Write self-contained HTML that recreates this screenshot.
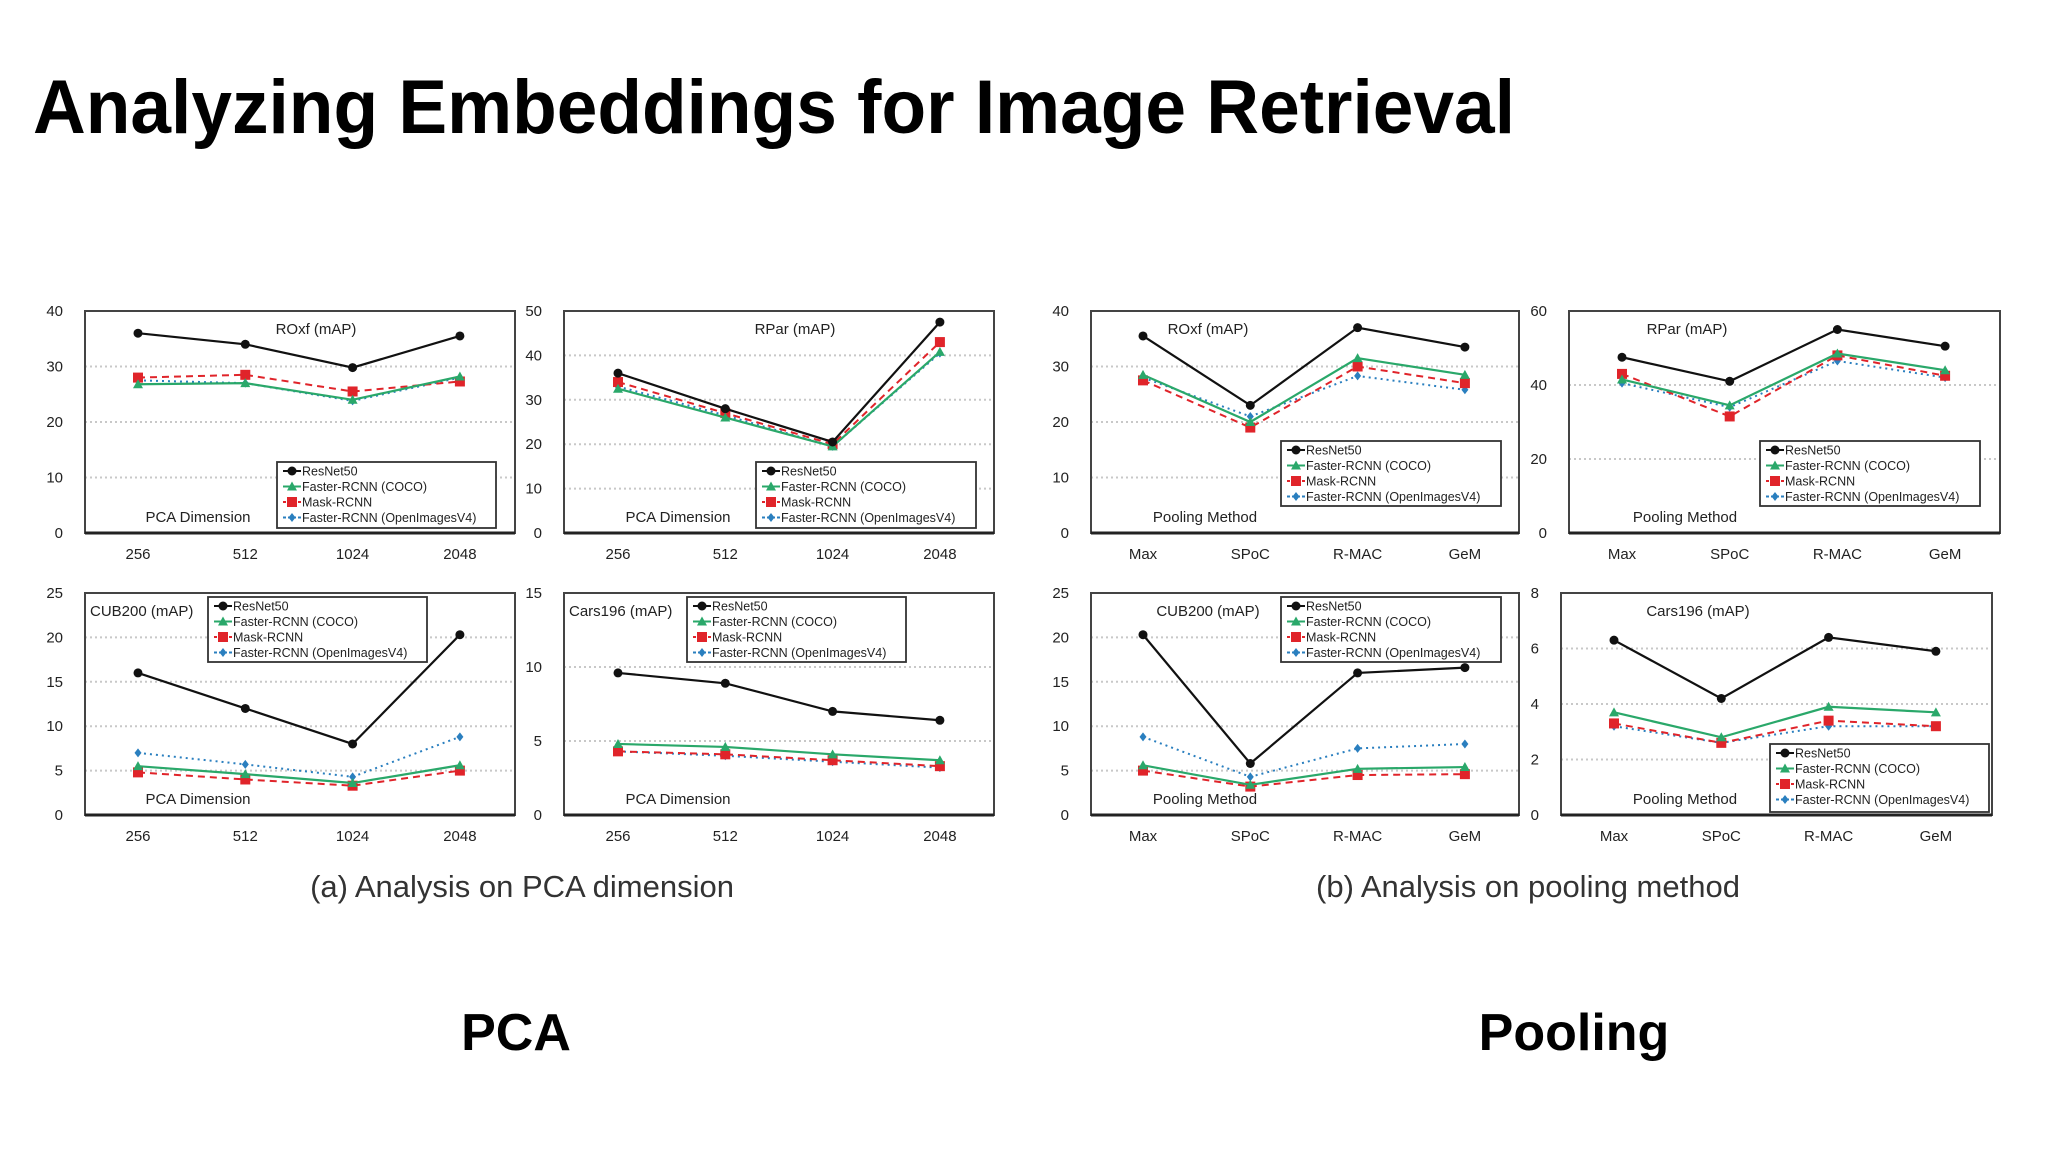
<!DOCTYPE html>
<html><head><meta charset="utf-8"><style>
html,body{margin:0;padding:0;background:#fff;}
svg{display:block;font-family:"Liberation Sans",sans-serif;}
</style></head><body>
<svg id="s" width="2048" height="1152" viewBox="0 0 2048 1152">
<text x="33" y="133" font-size="76" font-weight="bold" textLength="1482" lengthAdjust="spacingAndGlyphs">Analyzing Embeddings for Image Retrieval</text>
<text x="522" y="897" font-size="31" fill="#333" text-anchor="middle">(a) Analysis on PCA dimension</text>
<text x="1528" y="897" font-size="31" fill="#333" text-anchor="middle">(b) Analysis on pooling method</text>
<text x="516" y="1050" font-size="52" font-weight="bold" text-anchor="middle">PCA</text>
<text x="1574" y="1050" font-size="52" font-weight="bold" text-anchor="middle">Pooling</text>
</svg>
<script>
const pcaCats=["256","512","1024","2048"];
const poolCats=["Max","SPoC","R-MAC","GeM"];
const seriesNames=["ResNet50","Faster-RCNN (COCO)","Mask-RCNN","Faster-RCNN (OpenImagesV4)"];
const pcaRoxfResnet=[36,34,29.8,35.5], pcaRoxfCoco=[26.8,27,24,28.2], pcaRoxfMask=[28,28.5,25.5,27.3], pcaRoxfOi=[27.5,27,23.8,28];
const pcaRparResnet=[36,28,20.5,47.5], pcaRparCoco=[32.5,26,19.5,40.8], pcaRparMask=[34,27,20,43], pcaRparOi=[33,26.5,19.5,40.5];
const pcaCubResnet=[16,12,8,20.3], pcaCubCoco=[5.5,4.6,3.6,5.6], pcaCubMask=[4.8,4,3.3,5], pcaCubOi=[7,5.7,4.3,8.8];
const pcaCarsResnet=[9.6,8.9,7,6.4], pcaCarsCoco=[4.8,4.6,4.1,3.7], pcaCarsMask=[4.3,4.1,3.7,3.3], pcaCarsOi=[4.3,4.0,3.6,3.2];
const poolRoxfResnet=[35.5,23,37,33.5], poolRoxfCoco=[28.5,20,31.5,28.5], poolRoxfMask=[27.5,19,30,27], poolRoxfOi=[28,21,28.3,25.8];
const poolRparResnet=[47.5,41,55,50.5], poolRparCoco=[41.5,34.5,48.5,44], poolRparMask=[43,31.5,48,42.5], poolRparOi=[40.5,34,46.5,42];
const poolCubResnet=[20.3,5.8,16,16.6], poolCubCoco=[5.6,3.4,5.2,5.4], poolCubMask=[5,3.2,4.5,4.6], poolCubOi=[8.8,4.3,7.5,8];
const poolCarsResnet=[6.3,4.2,6.4,5.9], poolCarsCoco=[3.7,2.8,3.9,3.7], poolCarsMask=[3.3,2.6,3.4,3.2], poolCarsOi=[3.2,2.6,3.2,3.2];
const roxfTicks=[0,10,20,30,40], rpar50Ticks=[0,10,20,30,40,50], cubTicks=[0,5,10,15,20,25], cars15Ticks=[0,5,10,15], rpar60Ticks=[0,20,40,60], cars8Ticks=[0,2,4,6,8];

const panels=[
 {id:"pca-roxf",title:"ROxf (mAP)",cats:pcaCats,ticks:roxfTicks,series:[pcaRoxfResnet,pcaRoxfCoco,pcaRoxfMask,pcaRoxfOi],box:[85,311,515,533],xs:138,dx:107.3,tx:316,ta:"middle",ax:"PCA Dimension",axx:198,leg:[277,462,219,66]},
 {id:"pca-rpar",title:"RPar (mAP)",cats:pcaCats,ticks:rpar50Ticks,series:[pcaRparResnet,pcaRparCoco,pcaRparMask,pcaRparOi],box:[564,311,994,533],xs:618,dx:107.3,tx:795,ta:"middle",ax:"PCA Dimension",axx:678,leg:[756,462,220,66]},
 {id:"pca-cub",title:"CUB200 (mAP)",cats:pcaCats,ticks:cubTicks,series:[pcaCubResnet,pcaCubCoco,pcaCubMask,pcaCubOi],box:[85,593,515,815],xs:138,dx:107.3,tx:90,ta:"start",ax:"PCA Dimension",axx:198,leg:[208,597,219,65]},
 {id:"pca-cars",title:"Cars196 (mAP)",cats:pcaCats,ticks:cars15Ticks,series:[pcaCarsResnet,pcaCarsCoco,pcaCarsMask,pcaCarsOi],box:[564,593,994,815],xs:618,dx:107.3,tx:569,ta:"start",ax:"PCA Dimension",axx:678,leg:[687,597,219,65]},
 {id:"pool-roxf",title:"ROxf (mAP)",cats:poolCats,ticks:roxfTicks,series:[poolRoxfResnet,poolRoxfCoco,poolRoxfMask,poolRoxfOi],box:[1091,311,1519,533],xs:1143,dx:107.3,tx:1208,ta:"middle",ax:"Pooling Method",axx:1205,leg:[1281,441,220,65]},
 {id:"pool-rpar",title:"RPar (mAP)",cats:poolCats,ticks:rpar60Ticks,series:[poolRparResnet,poolRparCoco,poolRparMask,poolRparOi],box:[1569,311,2000,533],xs:1622,dx:107.7,tx:1687,ta:"middle",ax:"Pooling Method",axx:1685,leg:[1760,441,220,65]},
 {id:"pool-cub",title:"CUB200 (mAP)",cats:poolCats,ticks:cubTicks,series:[poolCubResnet,poolCubCoco,poolCubMask,poolCubOi],box:[1091,593,1519,815],xs:1143,dx:107.3,tx:1208,ta:"middle",ax:"Pooling Method",axx:1205,leg:[1281,597,220,65]},
 {id:"pool-cars",title:"Cars196 (mAP)",cats:poolCats,ticks:cars8Ticks,series:[poolCarsResnet,poolCarsCoco,poolCarsMask,poolCarsOi],box:[1561,593,1992,815],xs:1614,dx:107.3,tx:1698,ta:"middle",ax:"Pooling Method",axx:1685,leg:[1770,744,219,68]}
];
const styles=[
 {c:"#111",dash:"",w:2.2,m:"circle"},
 {c:"#2aa86a",dash:"",w:2.2,m:"tri"},
 {c:"#e0242a",dash:"7,5",w:2,m:"square"},
 {c:"#2a7fbf",dash:"2,4",w:2,m:"diamond"}
];
const NS="http://www.w3.org/2000/svg";
const svg=document.getElementById("s");
function mk(tag,attrs,parent){const e=document.createElementNS(NS,tag);for(const k in attrs)e.setAttribute(k,attrs[k]);(parent||svg).appendChild(e);return e;}
function marker(g,type,x,y,c){
 let e;
 if(type==="circle")e=mk("circle",{cx:x,cy:y,r:4.5,fill:c},g);
 else if(type==="tri")e=mk("polygon",{points:`${x},${y-5} ${x-5},${y+4} ${x+5},${y+4}`,fill:c},g);
 else if(type==="square")e=mk("rect",{x:x-5,y:y-5,width:10,height:10,fill:c},g);
 else e=mk("polygon",{points:`${x},${y-4.5} ${x+3.5},${y} ${x},${y+4.5} ${x-3.5},${y}`,fill:c},g);
 return e;
}
panels.forEach(p=>{
 const g=mk("g",{});
 
 
 const [x0,y0,x1,y1]=p.box;
 const ymax=p.ticks[p.ticks.length-1];
 const ys=v=>y1-(v/ymax)*(y1-y0);
 const xs=i=>p.xs+i*p.dx;
 p.ticks.forEach(t=>{
  if(t>0&&t<ymax){const gl=mk("line",{x1:x0,x2:x1,y1:ys(t),y2:ys(t),stroke:"#c8c8c8","stroke-width":2,"stroke-dasharray":"2,3"},g);
  
  }
  const tl=mk("text",{x:x0-22,y:ys(t)+5,"font-size":15,fill:"#222","text-anchor":"end"},g);tl.textContent=t;
  
  
 });
 const bx=mk("rect",{x:x0,y:y0,width:x1-x0,height:y1-y0,fill:"none",stroke:"#444","stroke-width":2},g);
 
 
 mk("line",{x1:x0,x2:x1,y1:y1,y2:y1,stroke:"#222","stroke-width":3},g);
 p.cats.forEach((c,i)=>{const t=mk("text",{x:xs(i),y:y1+26,"font-size":15,fill:"#222","text-anchor":"middle"},g);t.textContent=c;
  
  });
 const tt=mk("text",{x:p.tx,y:y0+23,"font-size":15,fill:"#222","text-anchor":p.ta},g);tt.textContent=p.title;
 
 
 const at=mk("text",{x:p.axx,y:y1-11,"font-size":15,fill:"#222","text-anchor":"middle"},g);at.textContent=p.ax;
 
 
 [3,2,1,0].forEach(si=>{
  const st=styles[si],vals=p.series[si];
  const pts=vals.map((v,i)=>xs(i)+","+ys(v)).join(" ");
  const pl=mk("polyline",{points:pts,fill:"none",stroke:st.c,"stroke-width":st.w,"stroke-dasharray":st.dash},g);
  
  
  vals.forEach((v,i)=>{const m=marker(g,st.m,xs(i),ys(v),st.c);
   
   });
 });
 const [lx,ly,lw,lh]=p.leg;
 const lg=mk("g",{},g);
 
 
 mk("rect",{x:lx,y:ly,width:lw,height:lh,fill:"#fff",stroke:"#333","stroke-width":1.8},lg);
 seriesNames.forEach((n,k)=>{
  const st=styles[k],yy=ly+9+k*15.5;
  mk("line",{x1:lx+6,x2:lx+24,y1:yy,y2:yy,stroke:st.c,"stroke-width":2,"stroke-dasharray":st.dash?"3,2":""},lg);
  marker(lg,st.m,lx+15,yy,st.c);
  const t=mk("text",{x:lx+25,y:yy+4.5,"font-size":12.5,fill:"#222"},lg);t.textContent=n;
  
  
 });
});
</script>
</body></html>
